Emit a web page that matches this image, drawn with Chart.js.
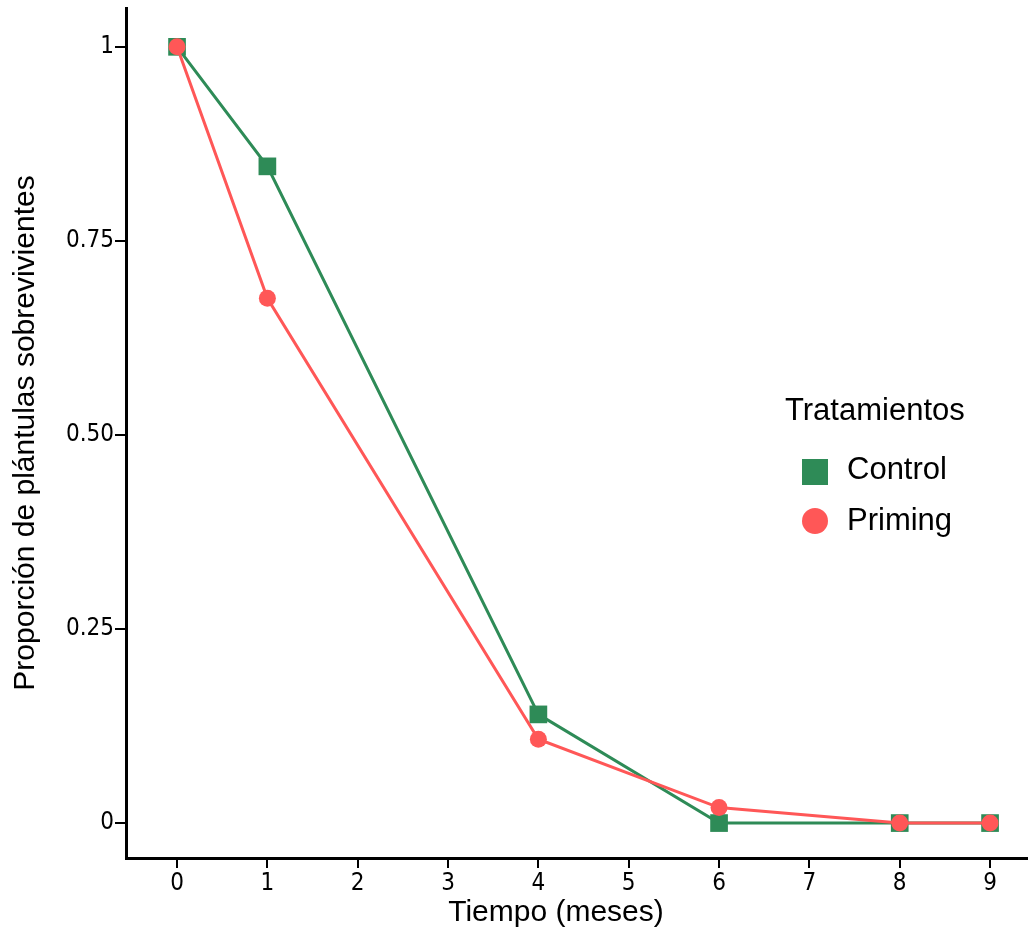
<!DOCTYPE html>
<html>
<head>
	<title>Proporción de plántulas sobrevivientes</title>
	<script src="https://cdn.jsdelivr.net/npm/chart.js"></script>
	<style>
		html, body { margin: 0; padding: 0; background: #fff; overflow: hidden; }
		canvas { display: block; }
	</style>
</head>
<body>

	<canvas id="grafico" width="1028" height="932"></canvas>

	<script>
		// Datos
		var meses = [0, 1, 4, 6, 8, 9];
		var control = [1, 0.846, 0.140, 0, 0, 0];
		var priming = [1, 0.676, 0.108, 0.020, 0, 0];
		var xTicks = [0, 1, 2, 3, 4, 5, 6, 7, 8, 9];
		var yTicks = [0, 0.25, 0.5, 0.75, 1];
		var yTickLabels = ['0', '0.25', '0.50', '0.75', '1'];
		var leyendaTitulo = 'Tratamientos';
		var leyenda = ['Control', 'Priming'];
		var tituloX = 'Tiempo (meses)';
		var tituloY = 'Proporción de plántulas sobrevivientes';

		var verde = '#2e8b57';
		var rojo = '#ff5757';
		var fuente = '"Liberation Sans", Arial, sans-serif';
		var fuenteTicks = '"DejaVu Sans Condensed", "DejaVu Sans", sans-serif';

		function puntos(vals) {
			return meses.map(function (m, i) { return { x: m, y: vals[i] }; });
		}

		// Leyenda y titulo del eje x dibujados a mano
		var leyendaPlugin = {
			id: 'leyenda',
			afterDraw: function (chart) {
				var ctx = chart.ctx;
				ctx.save();
				ctx.fillStyle = '#000';
				ctx.textBaseline = 'middle';
				ctx.textAlign = 'center';
				ctx.font = '30px ' + fuente;
				ctx.fillText(tituloX, 556, 913);
				ctx.textAlign = 'left';
				ctx.font = '31px ' + fuente;
				ctx.fillText(leyendaTitulo, 785, 411);
				ctx.fillStyle = verde;
				ctx.fillRect(802, 459, 26, 26);
				ctx.fillStyle = rojo;
				ctx.beginPath();
				ctx.arc(815, 521, 13, 0, Math.PI * 2);
				ctx.fill();
				ctx.fillStyle = '#000';
				ctx.fillText(leyenda[0], 847, 470);
				ctx.fillText(leyenda[1], 847, 521);
				ctx.restore();
			}
		};

		var ctx = document.getElementById('grafico').getContext('2d');
		var chart = new Chart(ctx, {
			type: 'line',
			data: {
				datasets: [{
					label: leyenda[1],
					data: puntos(priming),
					borderColor: rojo,
					backgroundColor: rojo,
					borderWidth: 3,
					pointStyle: 'circle',
					pointRadius: 8.5,
					pointBorderWidth: 0,
					tension: 0
				}, {
					label: leyenda[0],
					data: puntos(control),
					borderColor: verde,
					backgroundColor: verde,
					borderWidth: 3,
					pointStyle: 'rect',
					pointRadius: 12.5,
					pointBorderWidth: 0,
					tension: 0
				}]
			},
			options: {
				responsive: false,
				animation: false,
				layout: { autoPadding: false, padding: { top: 8, right: 0, left: 0, bottom: 0 } },
				plugins: {
					legend: { display: false },
					tooltip: { enabled: false }
				},
				scales: {
					x: {
						type: 'linear',
						min: -0.565,
						max: 9.42,
						afterBuildTicks: function (s) {
							s.ticks = xTicks.map(function (v) { return { value: v }; });
						},
						afterFit: function (s) {
							s.height = 74;
							s.paddingLeft = 0;
							s.paddingRight = 0;
						},
						ticks: {
							color: '#000',
							font: { family: fuenteTicks, size: 24 },
							padding: 1,
							maxRotation: 0,
							callback: function (v) { return String(v); }
						},
						grid: {
							display: true,
							drawOnChartArea: false,
							drawTicks: true,
							tickLength: 10,
							color: '#000',
							lineWidth: 2
						},
						border: { display: true, color: '#000', width: 3 },
						title: { display: false }
					},
					y: {
						type: 'linear',
						min: -0.045,
						max: 1.05,
						afterBuildTicks: function (s) {
							s.ticks = yTicks.map(function (v) { return { value: v }; });
						},
						afterFit: function (s) {
							s.width = 126;
							s.paddingTop = 0;
							s.paddingBottom = 0;
						},
						ticks: {
							color: '#000',
							font: { family: fuenteTicks, size: 24 },
							padding: 1,
							callback: function (v) {
								var i = yTicks.indexOf(v);
								return i >= 0 ? yTickLabels[i] : '';
							}
						},
						grid: {
							display: true,
							drawOnChartArea: false,
							drawTicks: true,
							tickLength: 11,
							color: '#000',
							lineWidth: 2
						},
						border: { display: true, color: '#000', width: 3 },
						title: {
							display: true,
							text: tituloY,
							color: '#000',
							font: { family: fuente, size: 30 },
							padding: { top: 8, bottom: 0 }
						}
					}
				}
			},
			plugins: [leyendaPlugin]
		});
	</script>

</body>
</html>
